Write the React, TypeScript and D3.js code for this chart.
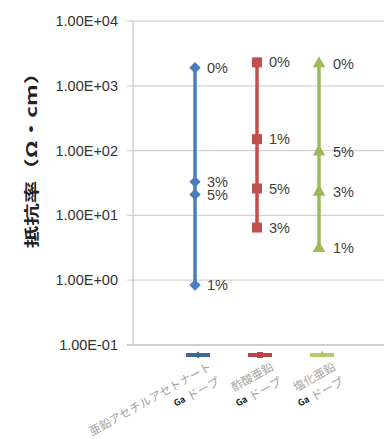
import React from "react";
import * as d3 from "d3";

// Resistivity of Ga-doped ZnO films by zinc source and Ga doping ratio
const categories = ["亜鉛アセチルアセトナート", "酢酸亜鉛", "塩化亜鉛"];
const dopantLabel = "ドープ";
const dopantElement = "Ga";
const levelLabels = ["0%", "1%", "3%", "5%"];
const acacValues = [1900, 0.84, 33, 21];
const acetateValues = [2300, 150, 6.5, 26];
const chlorideValues = [2200, 3.1, 23, 96];
const yTicks = [0.1, 1, 10, 100, 1000, 10000];
const yTitle = "抵抗率（Ω・cm）";

const seriesValues = [acacValues, acetateValues, chlorideValues];
const colors = ["#4a7ebb", "#c0504d", "#9bbb59"];
const legendColors = ["#3d6994", "#b8434a", "#b9c86a"];
const symbols = ["diamond", "square", "triangle"];

const W = 384;
const H = 439;
const plot = { left: 133, right: 384, top: 21, bottom: 345 };

const y = d3.scaleLog().domain([0.1, 10000]).range([plot.bottom, plot.top]);
const x = d3.scalePoint<string>().domain(categories).range([195, 319]);

const fmtSci = (v: number) => {
  const e = Math.round(Math.log10(v));
  const m = v / Math.pow(10, e);
  const sign = e < 0 ? "-" : "+";
  return `${m.toFixed(2)}E${sign}${String(Math.abs(e)).padStart(2, "0")}`;
};

function markerPath(kind: string, scale = 1): string {
  if (kind === "diamond") {
    return d3.symbol().type(d3.symbolSquare).size(64 * scale * scale)()!;
  }
  if (kind === "square") {
    return d3.symbol().type(d3.symbolSquare).size(100 * scale * scale)()!;
  }
  return d3.symbol().type(d3.symbolTriangle).size(70 * scale * scale)()!;
}

const tickFont = "'Liberation Sans', Arial, sans-serif";
const cjkFont = "'Noto Sans CJK JP', sans-serif";

export default function App() {
  const line = d3
    .line<number>()
    .x(() => 0)
    .y((d) => y(d));

  return (
    <svg
      width={W}
      height={H}
      style={{ position: "absolute", left: 0, top: 0, background: "#fff" }}
    >
      {/* gridlines and tick marks */}
      {yTicks.map((t) => (
        <line
          key={t}
          x1={plot.left - 6}
          x2={plot.right}
          y1={y(t)}
          y2={y(t)}
          stroke={t === 0.1 ? "#bfbfbf" : "#d4d4d4"}
          strokeWidth={1.3}
        />
      ))}
      <line
        x1={plot.left}
        x2={plot.left}
        y1={plot.top}
        y2={plot.bottom}
        stroke="#c8c8c8"
        strokeWidth={1.3}
      />
      {yTicks.map((t) => (
        <text
          key={"l" + t}
          x={118}
          y={y(t)}
          textAnchor="end"
          dominantBaseline="central"
          fontFamily={tickFont}
          fontSize={14.5}
          fill="#333"
        >
          {fmtSci(t)}
        </text>
      ))}

      {/* axis title */}
      <text
        transform={`translate(31,155) rotate(-90) scale(1.5,1)`}
        textAnchor="middle"
        dominantBaseline="central"
        fontFamily={cjkFont}
        fontWeight="bold"
        fontSize={15}
        fill="#222"
      >
        {yTitle}
      </text>

      {/* series */}
      {categories.map((c, i) => {
        const vals = seriesValues[i];
        const cx = x(c)!;
        const ext = d3.extent(vals) as [number, number];
        return (
          <g key={c} transform={`translate(${cx},0)`}>
            <path
              d={line(ext)!}
              stroke={colors[i]}
              strokeWidth={3.5}
              fill="none"
            />
            {vals.map((v, j) => (
              <g key={j}>
                <path
                  d={markerPath(symbols[i])}
                  transform={`translate(0,${y(v)})${
                    symbols[i] === "diamond" ? " rotate(45)" : ""
                  }`}
                  fill={colors[i]}
                />
                <text
                  x={i === 2 ? 14 : 12}
                  y={y(v)}
                  dominantBaseline="central"
                  fontFamily={tickFont}
                  fontSize={14.5}
                  fill="#404040"
                >
                  {levelLabels[j]}
                </text>
              </g>
            ))}
          </g>
        );
      })}

      {/* legend keys under the axis */}
      {categories.map((c, i) => {
        const cx = x(c)! + 3;
        return (
          <g key={"k" + c} transform={`translate(${cx},355)`}>
            <line
              x1={-12}
              x2={12}
              y1={0}
              y2={0}
              stroke={legendColors[i]}
              strokeWidth={4}
            />
            <path
              d={markerPath(symbols[i], 0.6)}
              transform={symbols[i] === "diamond" ? "rotate(45)" : ""}
              fill={legendColors[i]}
            />
          </g>
        );
      })}

      {/* category labels */}
      {categories.map((c) => {
        const ex = x(c)! + 15;
        return (
          <g key={"c" + c} transform={`translate(${ex},365) rotate(-29)`}>
            <text
              textAnchor="end"
              dominantBaseline="central"
              fontFamily={cjkFont}
              fontSize={11.5}
              fill="#a3a3a3"
            >
              {c}
            </text>
            <text
              y={16}
              textAnchor="end"
              dominantBaseline="central"
              fontFamily={cjkFont}
              fontSize={12}
              fill="#a3a3a3"
            >
              <tspan fill="#222" fontWeight="bold" fontSize={9}>
                {dopantElement}
              </tspan>
              <tspan dx={3}>{dopantLabel}</tspan>
            </text>
          </g>
        );
      })}
    </svg>
  );
}
